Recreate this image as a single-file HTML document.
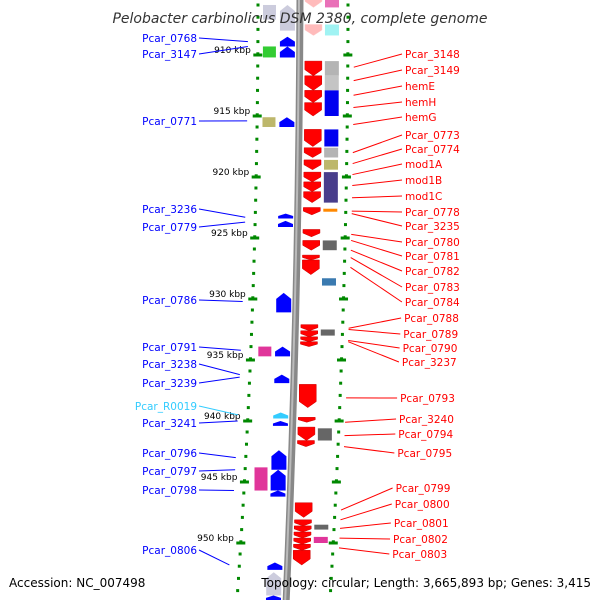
<!DOCTYPE html>
<html><head><meta charset="utf-8"><style>
html,body{margin:0;padding:0;background:#fff;width:600px;height:600px;overflow:hidden}
svg{display:block;font-family:"DejaVu Sans","Liberation Sans",sans-serif}
</style></head><body>
<svg id="c" width="600" height="600"></svg>
<script>
const ticksKbp=[910,915,920,925,930,935,940,945,950];
// forward (red) genes in kbp
const fwdStart=[905.1,907.5,910.5,911.7,912.9,913.9,916.1,917.6,918.6,919.6,920.4,921.2,922.5,924.3,925.2,926.4,926.8,932.1,932.6,933.1,933.5,937.0,939.7,940.5,941.6,946.7,948.1,948.6,949.1,949.6,950.1,950.6];
const fwdEnd=[906.1,908.4,911.7,912.9,913.9,915.0,917.5,918.4,919.4,920.4,921.2,922.1,923.1,924.9,926.0,926.8,928.0,932.6,933.1,933.5,933.9,938.9,940.1,941.6,942.1,947.9,948.6,949.1,949.6,950.1,950.6,951.8];
// forward feature boxes
const fboxStart=[905.1,907.5,910.5,911.7,912.9,916.1,917.6,918.6,919.6,922.6,925.2,928.3,932.5,940.6,948.5,949.5];
const fboxEnd=[906.1,908.4,911.7,912.9,915.0,917.5,918.4,919.4,922.1,922.8,926.0,928.9,933.0,941.6,948.9,950.0];
const fboxColor=["#e0359a","#7ee","#b4b4b4","#c4c4c4","#0000f0","#0000f0","#b4b4b4","#bdb76b","#483d8b","#f80","#666","#3a7ab0","#666","#666","#666","#e0359a"];
// reverse (blue) genes in kbp
const revStart=[905.9,908.5,909.3,915.1,923.0,923.6,929.5,933.9,936.2,939.3,940.0,942.4,944.0,945.7,951.6,952.4,954.3];
const revEnd=[908.0,909.3,910.2,915.9,923.4,924.1,931.1,934.7,936.9,939.8,940.4,944.0,945.7,946.2,952.2,954.3,954.7];
const rboxStart=[905.9,909.3,915.1,933.9,943.8];
const rboxEnd=[907.1,910.2,915.9,934.7,945.7];
const rboxColor=["#ccd","#3c3","#bdb76b","#e0359a","#e0359a"];
const rightLabels=["Pcar_3148","Pcar_3149","hemE","hemH","hemG","Pcar_0773","Pcar_0774","mod1A","mod1B","mod1C","Pcar_0778","Pcar_3235","Pcar_0780","Pcar_0781","Pcar_0782","Pcar_0783","Pcar_0784","Pcar_0788","Pcar_0789","Pcar_0790","Pcar_3237","Pcar_0793","Pcar_3240","Pcar_0794","Pcar_0795","Pcar_0799","Pcar_0800","Pcar_0801","Pcar_0802","Pcar_0803"];
const rightLabelY=[54,70,86,102,117,135,149,164,180,196,212,226,242,256,271,287,302,318,334,348,362,398,419,434,453,488,504,523,539,554];
const rightTargetKbp=[911.0,912.1,913.3,914.3,915.7,918.0,918.9,919.8,920.7,921.7,922.8,923.0,924.7,925.2,926.0,926.6,927.4,932.4,932.5,933.4,933.5,938.1,940.1,941.2,942.1,947.3,948.1,948.8,949.6,950.4];
const leftLabels=["Pcar_0768","Pcar_3147","Pcar_0771","Pcar_3236","Pcar_0779","Pcar_0786","Pcar_0791","Pcar_3238","Pcar_3239","Pcar_R0019","Pcar_3241","Pcar_0796","Pcar_0797","Pcar_0798","Pcar_0806"];
const leftLabelY=[38,54,121,209,227,300,347,364,383,406,423,453,471,490,550];
const leftTargetKbp=[908.9,909.3,915.4,923.3,923.7,930.2,934.2,936.2,936.4,939.5,940.0,943.0,944.0,945.7,951.8];
const S="http://www.w3.org/2000/svg",svg=document.getElementById('c');
const Y=k=>55+(k-910)*12.2;
const bx=y=>300-14*Math.pow(y/600,2);
const lx=y=>bx(y)-42-7*Math.pow(y/600,2);
const rx=y=>bx(y)+48-4*Math.pow(y/600,2);
function el(t,a){const e=document.createElementNS(S,t);for(const k in a)e.setAttribute(k,a[k]);svg.appendChild(e);return e;}
// dotted scales
for(let y=5;y<600;y+=12.2){
 let a=el('rect',{x:lx(y)-1.5,y:y-1.5,width:3,height:3,fill:'#080'});
 
 let b=el('rect',{x:rx(y)-1.5,y:y-1.5,width:3,height:3,fill:'#080'});
 
}
ticksKbp.forEach(k=>{const y=Y(k);
 let m=el('rect',{x:lx(y)-4.5,y:y-1.5,width:9,height:3,fill:'#080'});
 
 let m2=el('rect',{x:rx(y)-4.5,y:y-1.5,width:9,height:3,fill:'#080'});
 
 let tx=el('text',{x:lx(y)-7,y:y-2,'text-anchor':'end','font-size':9,fill:'#000'});tx.textContent=k+' kbp';
 
});
// backbone
let bb=el('path',{d:'M300,-5 Q299,300 286,605',stroke:'#888',fill:'none','stroke-width':7});

let bb2=el('path',{d:'M299,-5 Q298,300 285,605',stroke:'#bbb',fill:'none','stroke-width':2});

// forward boxes
fboxStart.forEach((s,i)=>{const y1=Y(s),y2=Y(fboxEnd[i]);
 let b=el('rect',{x:bx(y1)+25,y:y1,width:14,height:Math.max(3,y2-y1),fill:fboxColor[i],opacity:i<2?0.7:1});
 });
fwdStart.forEach((s,i)=>{const y1=Y(s),y2=Y(fwdEnd[i]),x=bx(y1)+5,w=17,h=y2-y1,hd=Math.min(6,h*0.5);
 const faded=i<2;
 let g=el('path',{d:`M${x},${y1} h${w} v${h-hd} l${-w/2},${hd} l${-w/2},${-hd} z`,fill:faded?'#fbb':'#f00',stroke:faded?'#fcc':'#c00','stroke-width':0.5});
 });
rboxStart.forEach((s,i)=>{const y1=Y(s),y2=Y(rboxEnd[i]);
 let b=el('rect',{x:bx(y1)-37,y:y1,width:13,height:y2-y1,fill:rboxColor[i]});
 });
revStart.forEach((s,i)=>{const y1=Y(s),y2=Y(revEnd[i]),x=bx(y2)-20,w=15,h=y2-y1,hd=Math.min(6,h*0.5);
 const faded=(i==0||i==15);
 let g=el('path',{d:`M${x},${y2} h${w} v${-(h-hd)} l${-w/2},${-hd} l${-w/2},${hd} z`,fill:faded?'#ccd':(i==9?'#3cf':'#00f')});
 });
// title
let t=el('text',{x:300,y:23,'text-anchor':'middle','font-size':14,'font-style':'italic',fill:'#333'});t.textContent='Pelobacter carbinolicus DSM 2380, complete genome';

rightLabels.forEach((n,i)=>{const y=rightLabelY[i],tx=405-Math.max(0,(y-300))*0.05,ty=Y(rightTargetKbp[i]);
 let l=el('line',{x1:rx(ty)+6,y1:ty,x2:tx-3,y2:y,stroke:'#f00','stroke-width':1});
 
 let tt=el('text',{x:tx,y:y+4,'font-size':10.5,fill:'#f00'});tt.textContent=n;
 });
leftLabels.forEach((n,i)=>{const y=leftLabelY[i],ty=Y(leftTargetKbp[i]),c=n=='Pcar_R0019'?'#3cf':'#00f';
 let l=el('line',{x1:199,y1:y,x2:lx(ty)-10,y2:ty,stroke:c,'stroke-width':1});
 
 let tt=el('text',{x:197,y:y+4,'text-anchor':'end','font-size':10.5,fill:c});tt.textContent=n;
 });
let f1=el('text',{x:9,y:587,'font-size':12,fill:'#000'});f1.textContent='Accession: NC_007498';

let f2=el('text',{x:591,y:587,'text-anchor':'end','font-size':12,fill:'#000'});f2.textContent='Topology: circular; Length: 3,665,893 bp; Genes: 3,415';

</script>
</body></html>
